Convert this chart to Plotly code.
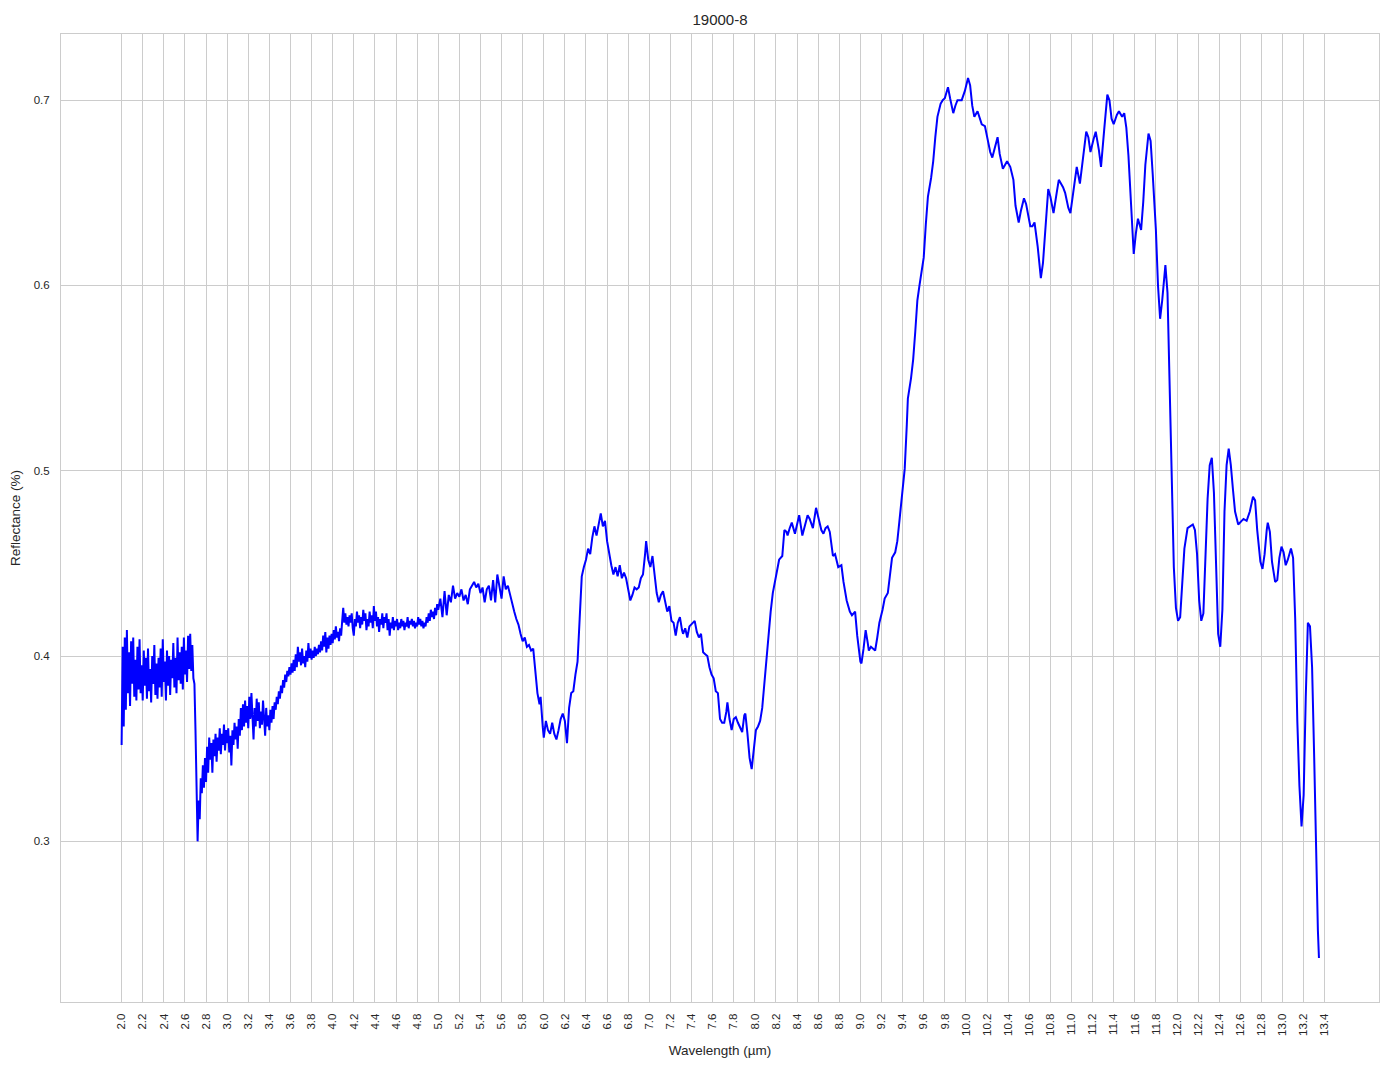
import plotly.graph_objects as go

TITLE = "19000-8"
X_LABEL = "Wavelength (µm)"
Y_LABEL = "Reflectance (%)"

# ---- noisy near-IR segment (2.00 - 3.00 µm) ----
wl_nir = [2.00, 2.01, 2.02, 2.03, 2.04, 2.05, 2.06, 2.07, 2.08, 2.09,
          2.10, 2.11, 2.12, 2.13, 2.14, 2.15, 2.16, 2.17, 2.18, 2.19,
          2.20, 2.21, 2.22, 2.23, 2.24, 2.25, 2.26, 2.27, 2.28, 2.29,
          2.30, 2.31, 2.32, 2.33, 2.34, 2.35, 2.36, 2.37, 2.38, 2.39,
          2.40, 2.41, 2.42, 2.43, 2.44, 2.45, 2.46, 2.47, 2.48, 2.49,
          2.50, 2.51, 2.52, 2.53, 2.54, 2.55, 2.56, 2.57, 2.58, 2.59,
          2.60, 2.61, 2.62, 2.63, 2.64, 2.65, 2.66, 2.67, 2.68, 2.69,
          2.70, 2.71, 2.72, 2.73, 2.74, 2.75, 2.76, 2.77, 2.78, 2.79,
          2.80, 2.81, 2.82, 2.83, 2.84, 2.85, 2.86, 2.87, 2.88, 2.89,
          2.90, 2.91, 2.92, 2.93, 2.94, 2.95, 2.96, 2.97, 2.98, 2.99, 3.00]
refl_nir = [0.352, 0.405, 0.362, 0.410, 0.371, 0.414, 0.380, 0.402, 0.373, 0.408,
            0.385, 0.410, 0.378, 0.398, 0.376, 0.405, 0.382, 0.409, 0.380, 0.395,
            0.376, 0.403, 0.384, 0.399, 0.377, 0.404, 0.381, 0.393, 0.375, 0.400,
            0.385, 0.406, 0.379, 0.396, 0.377, 0.399, 0.383, 0.404, 0.378, 0.409,
            0.386, 0.397, 0.376, 0.403, 0.384, 0.400, 0.379, 0.398, 0.388, 0.407,
            0.383, 0.399, 0.380, 0.410, 0.387, 0.402, 0.385, 0.405, 0.382, 0.410,
            0.390, 0.403, 0.386, 0.411, 0.393, 0.412, 0.392, 0.406, 0.388, 0.385,
            0.360, 0.318, 0.300, 0.322, 0.312, 0.334, 0.326, 0.341, 0.329, 0.345,
            0.332, 0.351, 0.337, 0.356, 0.344, 0.353, 0.337, 0.355, 0.346, 0.358,
            0.343, 0.356, 0.349, 0.361, 0.347, 0.358, 0.352, 0.363, 0.349, 0.360, 0.353]

# ---- 3.01 - 4.00 µm ----
wl_mid1 = [3.01, 3.02, 3.03, 3.04, 3.05, 3.06, 3.07, 3.08, 3.09, 3.10,
           3.11, 3.12, 3.13, 3.14, 3.15, 3.16, 3.17, 3.18, 3.19, 3.20,
           3.21, 3.22, 3.23, 3.24, 3.25, 3.26, 3.27, 3.28, 3.29, 3.30,
           3.31, 3.32, 3.33, 3.34, 3.35, 3.36, 3.37, 3.38, 3.39, 3.40,
           3.41, 3.42, 3.43, 3.44, 3.45, 3.46, 3.47, 3.48, 3.49, 3.50,
           3.51, 3.52, 3.53, 3.54, 3.55, 3.56, 3.57, 3.58, 3.59, 3.60,
           3.61, 3.62, 3.63, 3.64, 3.65, 3.66, 3.67, 3.68, 3.69, 3.70,
           3.71, 3.72, 3.73, 3.74, 3.75, 3.76, 3.77, 3.78, 3.79, 3.80,
           3.81, 3.82, 3.83, 3.84, 3.85, 3.86, 3.87, 3.88, 3.89, 3.90,
           3.91, 3.92, 3.93, 3.94, 3.95, 3.96, 3.97, 3.98, 3.99, 4.00]
refl_mid1 = [0.361, 0.348, 0.357, 0.341, 0.360, 0.352, 0.364, 0.355, 0.362, 0.350,
             0.366, 0.357, 0.372, 0.360, 0.374, 0.362, 0.376, 0.364, 0.373, 0.361,
             0.378, 0.366, 0.380, 0.364, 0.355, 0.372, 0.362, 0.377, 0.365, 0.375,
             0.361, 0.370, 0.363, 0.376, 0.366, 0.357, 0.372, 0.362, 0.368, 0.360,
             0.371, 0.364, 0.373, 0.366, 0.375, 0.371, 0.378, 0.374, 0.381, 0.377,
             0.384, 0.380, 0.387, 0.383, 0.390, 0.386, 0.392, 0.389, 0.394, 0.390,
             0.396, 0.391, 0.398, 0.392, 0.401, 0.394, 0.405, 0.397, 0.402, 0.395,
             0.404, 0.396, 0.400, 0.394, 0.403, 0.397, 0.407, 0.399, 0.404, 0.398,
             0.403, 0.399, 0.405, 0.400, 0.404, 0.401, 0.406, 0.402, 0.408, 0.403,
             0.411, 0.405, 0.413, 0.402, 0.410, 0.404, 0.411, 0.406, 0.412, 0.407]

# ---- 4.01 - 5.00 µm ----
wl_mid2 = [4.01, 4.02, 4.03, 4.04, 4.05, 4.06, 4.07, 4.08, 4.09, 4.10,
           4.11, 4.12, 4.13, 4.14, 4.15, 4.16, 4.17, 4.18, 4.19, 4.20,
           4.21, 4.22, 4.23, 4.24, 4.25, 4.26, 4.27, 4.28, 4.29, 4.30,
           4.31, 4.32, 4.33, 4.34, 4.35, 4.36, 4.37, 4.38, 4.39, 4.40,
           4.41, 4.42, 4.43, 4.44, 4.45, 4.46, 4.47, 4.48, 4.49, 4.50,
           4.51, 4.52, 4.53, 4.54, 4.55, 4.56, 4.57, 4.58, 4.59, 4.60,
           4.61, 4.62, 4.63, 4.64, 4.65, 4.66, 4.67, 4.68, 4.69, 4.70,
           4.71, 4.72, 4.73, 4.74, 4.75, 4.76, 4.77, 4.78, 4.79, 4.80,
           4.81, 4.82, 4.83, 4.84, 4.85, 4.86, 4.87, 4.88, 4.89, 4.90,
           4.91, 4.92, 4.93, 4.94, 4.95, 4.96, 4.97, 4.98, 4.99, 5.00]
refl_mid2 = [0.414, 0.409, 0.416, 0.410, 0.413, 0.408, 0.415, 0.411, 0.419, 0.426,
             0.418, 0.423, 0.417, 0.421, 0.416, 0.422, 0.418, 0.423, 0.415, 0.411,
             0.420, 0.416, 0.424, 0.418, 0.422, 0.415, 0.421, 0.417, 0.425, 0.419,
             0.423, 0.414, 0.420, 0.416, 0.424, 0.418, 0.422, 0.415, 0.427, 0.419,
             0.424, 0.416, 0.421, 0.413, 0.420, 0.417, 0.423, 0.415, 0.421, 0.418,
             0.423, 0.414, 0.420, 0.411, 0.418, 0.415, 0.421, 0.414, 0.419, 0.416,
             0.420, 0.414, 0.418, 0.415, 0.420, 0.416, 0.419, 0.414, 0.418, 0.416,
             0.421, 0.415, 0.419, 0.417, 0.420, 0.416, 0.419, 0.415, 0.418, 0.416,
             0.421, 0.417, 0.420, 0.416, 0.419, 0.415, 0.418, 0.416, 0.421, 0.418,
             0.423, 0.419, 0.425, 0.421, 0.424, 0.420, 0.426, 0.422, 0.428, 0.425]

# ---- 5.02 - 8.00 µm ----
wl_tir1 = [5.02, 5.04, 5.06, 5.08, 5.10, 5.12, 5.14, 5.16, 5.18, 5.20,
           5.22, 5.24, 5.26, 5.28, 5.30, 5.32, 5.34, 5.36, 5.38, 5.40,
           5.42, 5.44, 5.46, 5.48, 5.50, 5.52, 5.54, 5.56, 5.58, 5.60,
           5.62, 5.64, 5.66, 5.68, 5.70, 5.72, 5.74, 5.76, 5.78, 5.80,
           5.82, 5.84, 5.86, 5.88, 5.90, 5.92, 5.94, 5.96, 5.97, 5.99,
           6.00, 6.02, 6.04, 6.06, 6.08, 6.10, 6.12, 6.14, 6.16, 6.18,
           6.20, 6.22, 6.24, 6.26, 6.28, 6.30, 6.32, 6.34, 6.36, 6.38,
           6.40, 6.42, 6.44, 6.46, 6.48, 6.50, 6.52, 6.54, 6.56, 6.58,
           6.60, 6.62, 6.64, 6.66, 6.68, 6.70, 6.72, 6.74, 6.76, 6.78,
           6.80, 6.82, 6.84, 6.86, 6.88, 6.90, 6.92, 6.94, 6.96, 6.97,
           6.99, 7.01, 7.03, 7.05, 7.07, 7.09, 7.11, 7.13, 7.15, 7.17,
           7.19, 7.21, 7.23, 7.25, 7.27, 7.29, 7.31, 7.32, 7.34, 7.36,
           7.38, 7.40, 7.43, 7.45, 7.47, 7.49, 7.51, 7.53, 7.55, 7.57,
           7.59, 7.61, 7.63, 7.65, 7.67, 7.69, 7.71, 7.73, 7.74, 7.76,
           7.78, 7.80, 7.82, 7.84, 7.86, 7.88, 7.90, 7.91, 7.93, 7.95,
           7.97, 7.99]
refl_tir1 = [0.431, 0.421, 0.435, 0.422, 0.433, 0.429, 0.438, 0.431, 0.434, 0.432,
             0.436, 0.430, 0.433, 0.428, 0.436, 0.438, 0.440, 0.437, 0.439, 0.434,
             0.437, 0.429, 0.436, 0.438, 0.430, 0.441, 0.429, 0.444, 0.437, 0.431,
             0.443, 0.436, 0.438, 0.433, 0.429, 0.424, 0.420, 0.417, 0.412, 0.408,
             0.410, 0.405, 0.406, 0.403, 0.404, 0.392, 0.380, 0.374, 0.378, 0.362,
             0.356, 0.365, 0.360, 0.358, 0.364, 0.358, 0.355, 0.360, 0.366, 0.369,
             0.365, 0.353, 0.372, 0.380, 0.381, 0.390, 0.397, 0.420, 0.443, 0.448,
             0.452, 0.458, 0.455, 0.464, 0.470, 0.465, 0.472, 0.477, 0.470, 0.473,
             0.462, 0.455, 0.449, 0.444, 0.448, 0.443, 0.449, 0.442, 0.445, 0.442,
             0.436, 0.430, 0.433, 0.437, 0.436, 0.437, 0.442, 0.444, 0.455, 0.462,
             0.452, 0.448, 0.454, 0.445, 0.434, 0.429, 0.433, 0.435, 0.430, 0.424,
             0.427, 0.419, 0.418, 0.411, 0.418, 0.421, 0.414, 0.412, 0.415, 0.410,
             0.416, 0.417, 0.419, 0.413, 0.410, 0.412, 0.402, 0.401, 0.400, 0.394,
             0.390, 0.388, 0.381, 0.380, 0.366, 0.364, 0.364, 0.370, 0.375, 0.366,
             0.360, 0.366, 0.367, 0.364, 0.361, 0.359, 0.368, 0.369, 0.358, 0.345,
             0.339, 0.350]

# ---- 8.01 - 11.00 µm ----
wl_tir2 = [8.01, 8.03, 8.05, 8.07, 8.09, 8.11, 8.13, 8.15, 8.17, 8.20,
           8.23, 8.26, 8.28, 8.30, 8.31, 8.33, 8.35, 8.38, 8.40, 8.42,
           8.45, 8.48, 8.50, 8.52, 8.55, 8.58, 8.61, 8.63, 8.65, 8.67,
           8.69, 8.71, 8.74, 8.76, 8.79, 8.82, 8.84, 8.87, 8.90, 8.92,
           8.95, 8.97, 9.00, 9.01, 9.03, 9.05, 9.07, 9.08, 9.10, 9.12,
           9.14, 9.16, 9.18, 9.21, 9.23, 9.26, 9.28, 9.30, 9.33, 9.35,
           9.37, 9.40, 9.42, 9.44, 9.45, 9.48, 9.50, 9.52, 9.54, 9.56,
           9.58, 9.60, 9.62, 9.64, 9.67, 9.69, 9.71, 9.73, 9.76, 9.78,
           9.80, 9.83, 9.85, 9.88, 9.90, 9.92, 9.96, 9.99, 10.02, 10.04,
           10.06, 10.08, 10.11, 10.13, 10.15, 10.18, 10.21, 10.23, 10.25, 10.27,
           10.30, 10.32, 10.35, 10.37, 10.39, 10.42, 10.45, 10.47, 10.50, 10.52,
           10.55, 10.57, 10.59, 10.61, 10.63, 10.65, 10.68, 10.71, 10.73, 10.74,
           10.76, 10.78, 10.80, 10.83, 10.86, 10.88, 10.90, 10.92, 10.94, 10.97,
           10.99]
refl_tir2 = [0.360, 0.362, 0.365, 0.372, 0.385, 0.398, 0.413, 0.424, 0.434, 0.444,
             0.452, 0.454, 0.468, 0.467, 0.465, 0.469, 0.472, 0.466, 0.471, 0.476,
             0.465, 0.471, 0.476, 0.474, 0.469, 0.480, 0.473, 0.468, 0.466, 0.469,
             0.470, 0.467, 0.454, 0.455, 0.448, 0.449, 0.440, 0.430, 0.424, 0.422,
             0.424, 0.411, 0.397, 0.396, 0.404, 0.414, 0.407, 0.403, 0.405, 0.404,
             0.403, 0.410, 0.418, 0.425, 0.431, 0.434, 0.443, 0.453, 0.456, 0.462,
             0.473, 0.492, 0.501, 0.525, 0.539, 0.550, 0.560, 0.575, 0.592, 0.600,
             0.607, 0.615, 0.633, 0.648, 0.658, 0.667, 0.680, 0.691, 0.698, 0.700,
             0.701, 0.707, 0.701, 0.693, 0.697, 0.700, 0.700, 0.705, 0.712, 0.708,
             0.697, 0.691, 0.694, 0.690, 0.687, 0.686, 0.678, 0.672, 0.669, 0.674,
             0.680, 0.671, 0.663, 0.665, 0.667, 0.664, 0.657, 0.643, 0.634, 0.640,
             0.647, 0.644, 0.637, 0.632, 0.632, 0.634, 0.621, 0.604, 0.612, 0.621,
             0.640, 0.652, 0.648, 0.639, 0.650, 0.657, 0.655, 0.653, 0.650, 0.642,
             0.639]

# ---- 11.02 - 13.345 µm ----
wl_tir3 = [11.02, 11.05, 11.08, 11.11, 11.14, 11.16, 11.18, 11.21, 11.23, 11.26,
           11.28, 11.31, 11.34, 11.36, 11.38, 11.40, 11.43, 11.45, 11.48, 11.50,
           11.52, 11.54, 11.56, 11.58, 11.59, 11.61, 11.63, 11.65, 11.66, 11.68,
           11.70, 11.73, 11.75, 11.77, 11.80, 11.82, 11.84, 11.86, 11.88, 11.89,
           11.91, 11.93, 11.95, 11.97, 11.99, 12.01, 12.03, 12.05, 12.07, 12.10,
           12.13, 12.15, 12.17, 12.19, 12.21, 12.23, 12.25, 12.27, 12.29, 12.31,
           12.33, 12.35, 12.37, 12.39, 12.41, 12.43, 12.45, 12.47, 12.49, 12.51,
           12.53, 12.55, 12.58, 12.61, 12.63, 12.66, 12.69, 12.72, 12.74, 12.76,
           12.79, 12.81, 12.83, 12.85, 12.86, 12.88, 12.90, 12.93, 12.95, 12.97,
           12.99, 13.01, 13.03, 13.05, 13.08, 13.10, 13.12, 13.14, 13.16, 13.18,
           13.20, 13.22, 13.24, 13.26, 13.28, 13.30, 13.32, 13.335, 13.345]
refl_tir3 = [0.652, 0.664, 0.655, 0.670, 0.683, 0.680, 0.672, 0.679, 0.683, 0.673,
             0.664, 0.684, 0.703, 0.700, 0.690, 0.687, 0.692, 0.694, 0.691, 0.693,
             0.685, 0.670, 0.650, 0.628, 0.617, 0.628, 0.636, 0.632, 0.630, 0.645,
             0.665, 0.682, 0.678, 0.660, 0.630, 0.600, 0.582, 0.592, 0.608, 0.611,
             0.596, 0.544, 0.486, 0.448, 0.426, 0.419, 0.421, 0.440, 0.458, 0.469,
             0.470, 0.471, 0.468, 0.455, 0.430, 0.419, 0.423, 0.455, 0.485, 0.503,
             0.507, 0.488, 0.443, 0.412, 0.405, 0.425, 0.478, 0.503, 0.512, 0.503,
             0.490, 0.478, 0.471, 0.473, 0.474, 0.473, 0.478, 0.486, 0.484, 0.468,
             0.451, 0.447, 0.455, 0.468, 0.472, 0.467, 0.451, 0.440, 0.441, 0.453,
             0.459, 0.456, 0.449, 0.452, 0.458, 0.453, 0.420, 0.365, 0.330, 0.308,
             0.325, 0.378, 0.418, 0.416, 0.394, 0.345, 0.282, 0.252, 0.237]

# tick labels
x_ticks = [round(2.0 + 0.2 * i, 1) for i in range(58)]
x_tick_labels = [f"{t:.1f}" for t in x_ticks]
y_ticks = [0.3, 0.4, 0.5, 0.6, 0.7]
y_tick_labels = ["0.3", "0.4", "0.5", "0.6", "0.7"]

wavelength = wl_nir + wl_mid1 + wl_mid2 + wl_tir1 + wl_tir2 + wl_tir3
reflectance = refl_nir + refl_mid1 + refl_mid2 + refl_tir1 + refl_tir2 + refl_tir3

FONT = "Liberation Sans, Arial, Helvetica, sans-serif"
TEXT = "#262626"
GRID = "#cccccc"

# page body has an 8px margin, so the figure is sized/offset to compensate
FIG_W, FIG_H = 1378, 1053

fig = go.Figure()
fig.add_trace(go.Scatter(
    x=wavelength, y=reflectance, mode="lines",
    line=dict(color="#0000ff", width=2),
    showlegend=False,
))

fig.update_layout(
    width=FIG_W, height=FIG_H,
    margin=dict(l=52, r=6, t=26, b=59),
    paper_bgcolor="white", plot_bgcolor="white",
    font=dict(family=FONT, color=TEXT),
    title=dict(text=TITLE, x=0.5, xref="paper", xanchor="center",
               y=1 - 12 / FIG_H, yref="container", yanchor="middle",
               font=dict(size=15, color=TEXT, family=FONT)),
)

fig.update_xaxes(
    range=[1.4257, 13.914],
    tickmode="array", tickvals=x_ticks, ticktext=x_tick_labels,
    tickangle=-90, tickfont=dict(size=11.5, color=TEXT, family=FONT),
    ticks="outside", ticklen=6, tickcolor="rgba(0,0,0,0)",
    showgrid=True, gridcolor=GRID, gridwidth=1,
    showline=True, linecolor=GRID, linewidth=1, mirror=True,
    zeroline=False,
    title=dict(text=X_LABEL, font=dict(size=13.5, color=TEXT, family=FONT), standoff=10),
)
fig.update_yaxes(
    range=[0.2133, 0.7357],
    tickmode="array", tickvals=y_ticks, ticktext=y_tick_labels,
    tickfont=dict(size=11.5, color=TEXT, family=FONT),
    ticks="outside", ticklen=8, tickcolor="rgba(0,0,0,0)",
    showgrid=True, gridcolor=GRID, gridwidth=1,
    showline=True, linecolor=GRID, linewidth=1, mirror=True,
    zeroline=False,
    title=dict(text=Y_LABEL, font=dict(size=13.5, color=TEXT, family=FONT), standoff=10),
)

fig.write_html("out.html")
